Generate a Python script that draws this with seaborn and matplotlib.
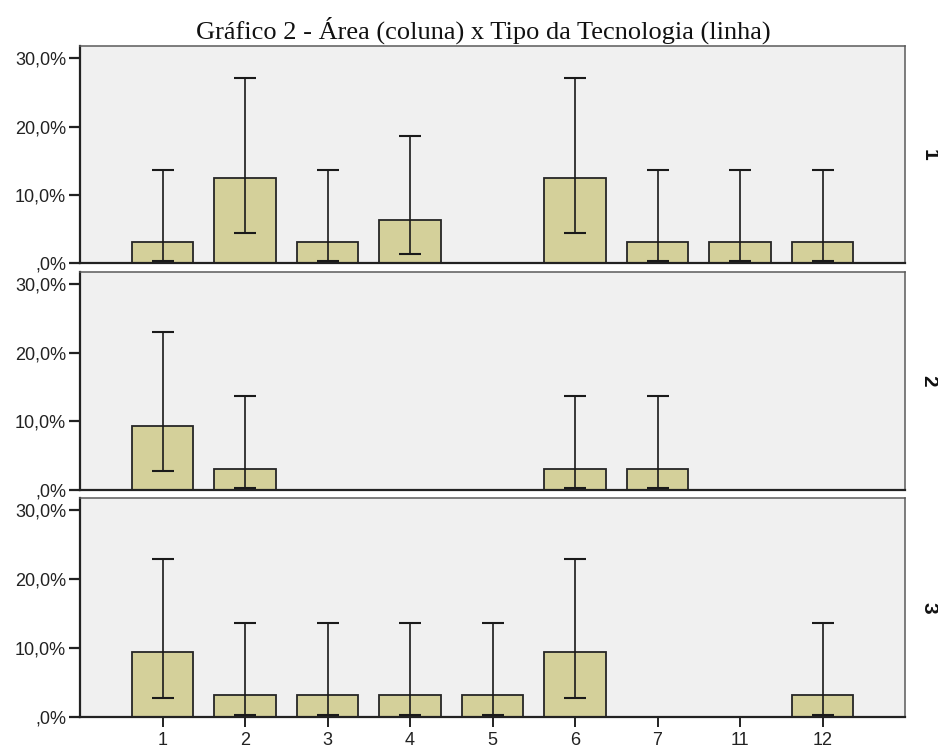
import matplotlib
matplotlib.use("Agg")
import matplotlib.pyplot as plt
import seaborn as sns
import pandas as pd
import numpy as np
from matplotlib.ticker import FuncFormatter

categories = ["1", "2", "3", "4", "5", "6", "7", "11", "12"]
panels = ["1", "2", "3"]

# percentages per panel (row = panel)
values_p1 = [3.125, 12.5, 3.125, 6.25, 0, 12.5, 3.125, 3.125, 3.125]
values_p2 = [9.375, 3.125, 0, 0, 0, 3.125, 3.125, 0, 0]
values_p3 = [9.375, 3.125, 3.125, 3.125, 3.125, 9.375, 0, 0, 3.125]

low_p1 = [0.3, 4.4, 0.3, 1.3, None, 4.4, 0.3, 0.3, 0.3]
high_p1 = [13.7, 27.1, 13.7, 18.6, None, 27.1, 13.7, 13.7, 13.7]
low_p2 = [2.7, 0.3, None, None, None, 0.3, 0.3, None, None]
high_p2 = [23.0, 13.7, None, None, None, 13.7, 13.7, None, None]
low_p3 = [2.7, 0.3, 0.3, 0.3, 0.3, 2.7, None, None, 0.3]
high_p3 = [23.0, 13.7, 13.7, 13.7, 13.7, 23.0, None, None, 13.7]

vals = [values_p1, values_p2, values_p3]
lows = [low_p1, low_p2, low_p3]
highs = [high_p1, high_p2, high_p3]

sns.set_theme(style="white")
plt.rcParams["font.family"] = ["Liberation Sans", "DejaVu Sans"]

fig = plt.figure(figsize=(9.38, 7.51), dpi=100)
W, H = 938, 751
left, right = 80, 905
tops = [46, 272, 498]
bottoms = [263, 490, 717]

bar_color = "#d4d09a"
bg = "#f0f0f0"

axes = []
for i in range(3):
    ax = fig.add_axes([left / W, 1 - bottoms[i] / H, (right - left) / W, (bottoms[i] - tops[i]) / H])
    axes.append(ax)
    df = pd.DataFrame({"cat": categories, "pct": vals[i]})
    sns.barplot(data=df, x="cat", y="pct", order=categories, color=bar_color,
                saturation=1, width=0.75, edgecolor="#262626", linewidth=1.3,
                errorbar=None, ax=ax)
    for j, (v, lo, hi) in enumerate(zip(vals[i], lows[i], highs[i])):
        if lo is None:
            continue
        ax.errorbar([j], [v], yerr=[[v - lo], [hi - v]], fmt="none",
                    ecolor="#1a1a1a", elinewidth=1.2, capsize=7.9, capthick=1.5)
    ax.set_facecolor(bg)
    ax.set_xlim(-1, 9)
    ax.set_ylim(0, 31.8)
    ax.set_yticks([0, 10, 20, 30])
    ax.yaxis.set_major_formatter(FuncFormatter(lambda v, p: ",0%" if v == 0 else f"{int(v)},0%"))
    ax.set_xlabel("")
    ax.set_ylabel("")
    for s in ["top", "right"]:
        ax.spines[s].set_color("#5a5a5a")
        ax.spines[s].set_linewidth(1.1)
    ax.spines["left"].set_color("#222222")
    ax.spines["left"].set_linewidth(1.6)
    ax.spines["bottom"].set_color("#222222")
    ax.spines["bottom"].set_linewidth(1.6)
    ax.tick_params(axis="y", which="major", left=True, length=8, width=1.6,
                   color="#222222", labelsize=13, pad=2, labelcolor="#222222")
    if i < 2:
        ax.tick_params(axis="x", bottom=False, labelbottom=False)
    else:
        ax.tick_params(axis="x", bottom=True, length=7, width=1.4, color="#222222",
                       labelsize=13, pad=4, labelcolor="#222222")
    fig.text(929 / W, 1 - ((tops[i] + bottoms[i]) / 2) / H, panels[i], rotation=270,
             ha="center", va="center", fontsize=15, fontweight="bold", color="#111111")

fig.text(483 / W, 1 - 30 / H, "Gráfico 2 - Área (coluna) x Tipo da Tecnologia (linha)",
         ha="center", va="center", fontsize=19, family=["Liberation Serif", "DejaVu Serif"],
         color="#111111")

fig.savefig("out.png", dpi=100, facecolor="white")
